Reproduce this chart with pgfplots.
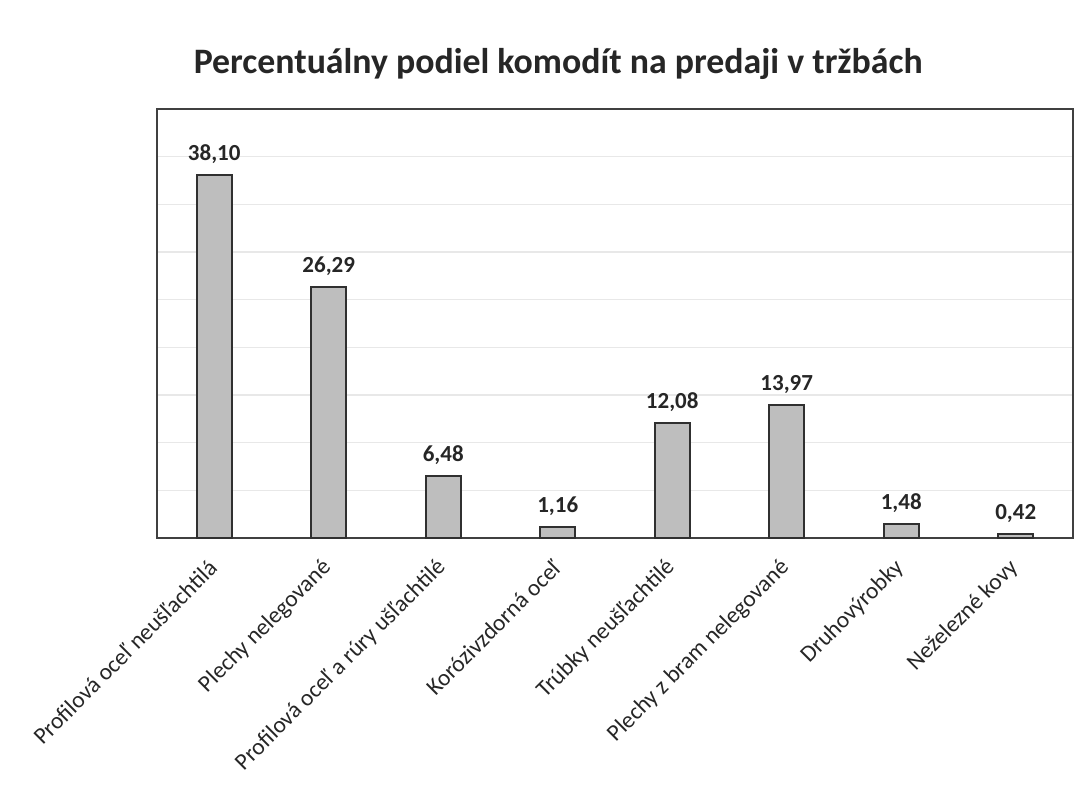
\documentclass[border=0pt]{standalone}
\usepackage{pgfplots}
\pgfplotsset{compat=1.18}
\usepackage{fontspec}
\setmainfont{Carlito}
\definecolor{barfill}{HTML}{BEBEBE}
\definecolor{baredge}{HTML}{303030}
\definecolor{boxgray}{HTML}{404040}
\definecolor{gridgray}{HTML}{E8E8E8}
\definecolor{textgray}{HTML}{262626}
\begin{document}
\begin{tikzpicture}[x=1pt,y=1pt]
\useasboundingbox (-78.5,-127.5) rectangle (466.5,269);
\begin{axis}[
  at={(0,0)}, anchor=south west,
  scale only axis, width=458pt, height=214.5pt,
  ymin=0, ymax=45, xmin=-0.5, xmax=7.5,
  ytick={0,5,...,45}, yticklabels={},
  ymajorgrids, grid style={draw=gridgray, line width=0.8pt},
  major tick length=0pt,
  xtick=data,
  xticklabels={Profilová oceľ neušľachtilá, Plechy nelegované, Profilová oceľ a rúry ušľachtilé, Korózivzdorná oceľ, Trúbky neušľachtilé, Plechy z bram nelegované, Druhovýrobky, Neželezné kovy},
  x tick label style={xshift=-0.5pt, yshift=-13pt, rotate=45, anchor=east, inner sep=0pt, font=\fontsize{11.7}{14}\selectfont, text=textgray},
  axis line style={draw=boxgray, line width=0.9pt},
  ybar, bar width=17.5pt,
  nodes near coords,
  every node near coord/.append style={font=\fontsize{11.5}{13}\selectfont\bfseries, text=textgray, yshift=2pt},
  /pgf/number format/.cd, fixed, fixed zerofill, precision=2, use comma, assume math mode=true,
  /pgfplots/.cd,
  title={Percentuálny podiel komodít na predaji v tržbách},
  title style={at={(axis description cs:0.438,1.077)}, anchor=center, font=\fontsize{17.9}{21}\selectfont\bfseries, text=textgray},
]
\addplot[fill=barfill, draw=baredge, line width=0.9pt] coordinates {
 (0,38.10) (1,26.29) (2,6.48) (3,1.16) (4,12.08) (5,13.97) (6,1.48) (7,0.42)
};
\end{axis}
\end{tikzpicture}
\end{document}
